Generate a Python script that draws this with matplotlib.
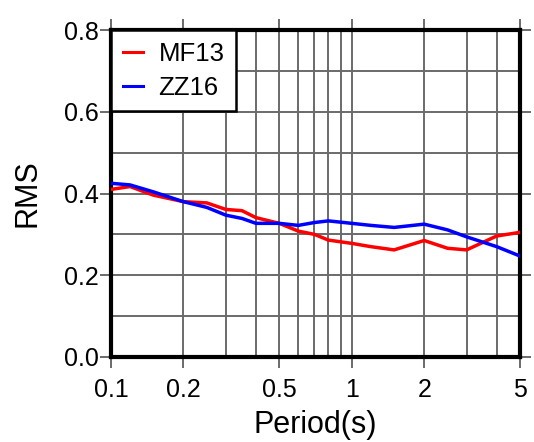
import numpy as np
import matplotlib.pyplot as plt
from matplotlib.ticker import FixedLocator, NullFormatter

plt.rcParams['font.family'] = ['Liberation Sans', 'DejaVu Sans']

# periods (s)
periods = [0.1, 0.12, 0.15, 0.2, 0.25, 0.3, 0.35, 0.4, 0.5, 0.6, 0.7, 0.8,
           1.0, 1.2, 1.5, 2.0, 2.5, 3.0, 4.0, 5.0]
rms_mf13 = [0.410, 0.417, 0.396, 0.380, 0.377, 0.361, 0.358, 0.341, 0.327, 0.308,
            0.300, 0.286, 0.278, 0.270, 0.262, 0.285, 0.266, 0.262, 0.296, 0.305]
rms_zz16 = [0.425, 0.421, 0.404, 0.380, 0.366, 0.347, 0.339, 0.327, 0.327, 0.322,
            0.329, 0.333, 0.327, 0.322, 0.317, 0.325, 0.311, 0.294, 0.270, 0.247]
xticks = [0.1, 0.2, 0.5, 1, 2, 5]
xticklabels = ['0.1', '0.2', '0.5', '1', '2', '5']
yticks = [0.0, 0.2, 0.4, 0.6, 0.8]

fig = plt.figure(figsize=(5.34, 4.42), dpi=100)
ax = fig.add_axes([111 / 534, 1 - 357 / 442, 409 / 534, 327 / 442])

ax.plot(periods, rms_mf13, color='#ff0000', lw=2.5, label='MF13', zorder=3)
ax.plot(periods, rms_zz16, color='#0000ff', lw=2.5, label='ZZ16', zorder=3)

ax.set_xscale('log')
ax.set_xlim(0.1, 5)
ax.set_ylim(0, 0.8)

# grid lines at all log minors and every 0.1 in y
gx = [0.1 * i for i in range(2, 10)] + [1, 2, 3, 4]
for x in gx:
    ax.axvline(x, color='#6a6a6a', lw=1.4, zorder=1)
for y in np.arange(0.1, 0.8, 0.1):
    ax.axhline(y, color='#6a6a6a', lw=1.4, zorder=1)

ax.xaxis.set_major_locator(FixedLocator(xticks))
ax.set_xticklabels(xticklabels)
ax.xaxis.set_minor_locator(FixedLocator([]))
ax.xaxis.set_minor_formatter(NullFormatter())
ax.set_yticks(yticks)
ax.set_yticklabels(['%.1f' % v for v in yticks])
ax.tick_params(axis='both', direction='out', length=8, width=1.4,
               color='#6a6a6a', labelsize=18, pad=4)
ax.tick_params(axis='x', top=True, pad=7)
ax.tick_params(axis='y', right=True, pad=1)

for s in ax.spines.values():
    s.set_linewidth(3)
    s.set_color('black')

ax.set_xlabel('Period(s)', fontsize=22, labelpad=6)
ax.set_ylabel('RMS', fontsize=22, labelpad=15)

leg = ax.legend(loc='upper left', fontsize=18.5, frameon=True, fancybox=False,
                borderaxespad=0, handlelength=0.8, handletextpad=0.6,
                borderpad=0.45, labelspacing=0.4)
leg.get_frame().set_edgecolor('black')
leg.get_frame().set_linewidth(1.8)
leg.get_frame().set_alpha(1)
for h in leg.get_lines():
    h.set_linewidth(2.2)

fig.savefig('out.png', dpi=100)
